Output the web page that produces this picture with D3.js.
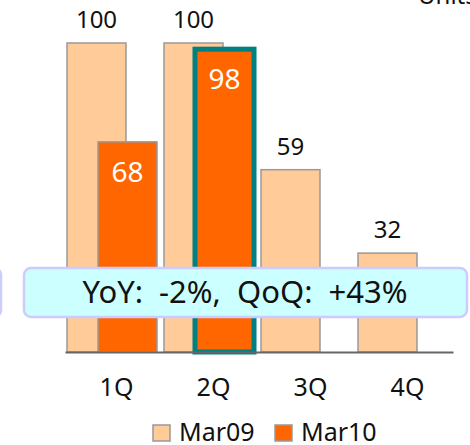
<!DOCTYPE html>
<html>
<head>
<meta charset="utf-8">
<script src="https://cdn.jsdelivr.net/npm/d3@7"></script>
<style>
  body { margin: 0; background: #fff; }
  svg { display: block; }
</style>
</head>
<body>
<div id="chart"></div>
<script>
// data
var quarters = ["1Q", "2Q", "3Q", "4Q"];
var seriesNames = ["Mar09", "Mar10"];
var mar09 = [100, 100, 59, 32];
var mar10 = [68, 98, null, null];
var highlightQuarter = "2Q";
var calloutText = "YoY:  -2%,  QoQ:  +43%";

var width = 470;
var height = 445;
var fontFamily = "'Noto Sans', sans-serif";
var lightFill = "#ffcc99";
var darkFill = "#ff6600";
var barStroke = "#999";
var teal = "#008080";

var svg = d3.select("#chart")
  .append("svg")
  .attr("width", width)
  .attr("height", height);

// scales
var x = d3.scaleBand()
  .domain(quarters)
  .range([65, 453]);

// the two bars of a quarter overlap each other
var xSub = d3.scalePoint()
  .domain(seriesNames)
  .range([2, 33]);
var barWidth = 59;

var y = d3.scaleLinear()
  .domain([0, 100])
  .range([352, 43]);

var rows = [];
quarters.forEach(function(q, i){
  rows.push({q: q, s: "Mar09", v: mar09[i]});
  if (mar10[i] != null) rows.push({q: q, s: "Mar10", v: mar10[i]});
});

// unit text, cut off at top right
svg.append("text")
  .attr("x", 418)
  .attr("y", 4)
  .attr("font-family", fontFamily)
  .attr("font-size", 24)
  .attr("fill", "#111")
  .text("Units");

// bars
svg.append("g").selectAll("rect")
  .data(rows)
  .enter().append("rect")
  .attr("x", function(d){ return x(d.q) + xSub(d.s); })
  .attr("y", function(d){ return y(d.v); })
  .attr("width", barWidth)
  .attr("height", function(d){ return y(0) - y(d.v); })
  .attr("fill", function(d){ return d.s == "Mar09" ? lightFill : darkFill; })
  .attr("stroke", function(d){ return (d.s == "Mar10" && d.q == highlightQuarter) ? teal : barStroke; })
  .attr("stroke-width", function(d){ return (d.s == "Mar10" && d.q == highlightQuarter) ? 5 : 1.5; });

// value labels
svg.append("g").selectAll("text")
  .data(rows)
  .enter().append("text")
  .attr("x", function(d){ return x(d.q) + xSub(d.s) + barWidth / 2; })
  .attr("y", function(d){ return d.s == "Mar09" ? y(d.v) - 15 : y(d.v) + 40; })
  .attr("text-anchor", "middle")
  .attr("font-family", fontFamily)
  .attr("font-size", function(d){ return d.s == "Mar09" ? 24 : 28; })
  .attr("fill", function(d){ return d.s == "Mar09" ? "#111" : "#fff"; })
  .text(function(d){ return d.v; });

// axis
var xAxis = svg.append("g")
  .attr("transform", "translate(0," + y(0) + ")")
  .call(d3.axisBottom(x).tickSize(0).tickPadding(26));
xAxis.select(".domain").attr("stroke", "#666").attr("stroke-width", 2);
xAxis.selectAll("text")
  .attr("font-family", fontFamily)
  .attr("font-size", 25)
  .attr("fill", "#111")
  .attr("dx", 3);

// callout boxes
svg.append("rect")
  .attr("x", -100).attr("y", 268)
  .attr("width", 101).attr("height", 49)
  .attr("rx", 7)
  .attr("fill", "#ccffff")
  .attr("stroke", "#ccccff")
  .attr("stroke-width", 2.5);

svg.append("rect")
  .attr("x", 24).attr("y", 268)
  .attr("width", 443).attr("height", 49)
  .attr("rx", 7)
  .attr("fill", "#ccffff")
  .attr("stroke", "#ccccff")
  .attr("stroke-width", 2.5);

svg.append("text")
  .attr("x", 245)
  .attr("y", 303)
  .attr("text-anchor", "middle")
  .attr("font-family", fontFamily)
  .attr("font-size", 31)
  .attr("fill", "#111")
  .style("white-space", "pre")
  .text(calloutText);

// legend
var legend = svg.append("g").selectAll("g")
  .data(seriesNames)
  .enter().append("g")
  .attr("transform", function(d, i){ return "translate(" + (153 + i * 122) + ",425)"; });

legend.append("rect")
  .attr("width", 17)
  .attr("height", 16)
  .attr("fill", function(d){ return d == "Mar09" ? lightFill : darkFill; })
  .attr("stroke", barStroke)
  .attr("stroke-width", 1.5);

legend.append("text")
  .attr("x", 26)
  .attr("y", 16)
  .attr("font-family", fontFamily)
  .attr("font-size", 25)
  .attr("fill", "#111")
  .text(function(d){ return d; });
</script>
</body>
</html>
